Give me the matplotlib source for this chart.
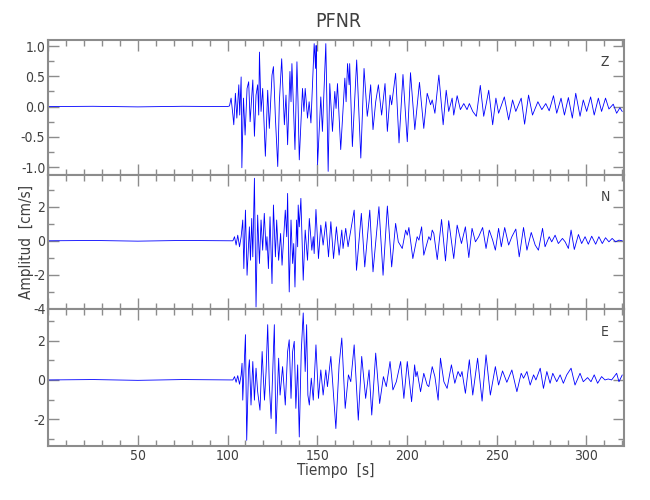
import matplotlib
matplotlib.use("Agg")
import matplotlib.pyplot as plt
from matplotlib.ticker import MultipleLocator

z_t = [0, 25, 50, 75, 100, 101.1, 102.0, 103.0, 103.5, 104.4, 105.2, 106.3, 106.8, 107.6, 108.0,
       108.9, 109.8, 110.9, 111.8, 112.6, 114.1, 115.0, 115.9, 116.8, 117.4, 117.8, 118.7, 119.6,
       121.1, 122.4, 123.3, 124.8, 125.6, 126.7, 128.0, 128.9, 130.2, 131.7, 132.6, 133.5, 134.8,
       135.4, 135.9, 137.6, 138.7, 139.3, 140.0, 141.8, 142.6, 143.3, 144.6, 145.5, 146.5, 148.3,
       149.1, 149.4, 150.2, 152.0, 152.9, 154.8, 156.1, 157.0, 158.5, 159.8, 160.5, 161.3, 163.1,
       165.4, 166.1, 166.9, 167.8, 168.1, 169.6, 172.0, 174.3, 176.1, 177.9, 178.9, 179.8, 181.1,
       182.6, 184.1, 185.9, 186.7, 187.8, 189.1, 190.6, 191.5, 193.7, 195.6, 197.8, 200.2, 202.0,
       204.4, 207.0, 209.4, 211.3, 213.2, 214.1, 215.6, 217.8, 220.2, 221.9, 223.3, 225.2, 226.1,
       228.0, 229.8, 231.7, 233.5, 234.8, 236.7, 238.7, 240.9, 242.8, 244.1, 245.6, 247.8, 249.6,
       251.1, 254.3, 256.7, 258.9, 260.7, 263.7, 265.6, 267.8, 270.0, 273.0, 275.2, 277.4, 279.3,
       281.7, 283.5, 285.9, 287.8, 290.0, 292.2, 294.1, 296.5, 298.3, 300.2, 302.4, 304.4, 306.7,
       308.5, 310.7, 312.6, 315.0, 316.9, 318.7, 320.0]
z_amp = [0.0, 0.005, -0.005, 0.005, 0.0, 0.01, 0.14, -0.14, -0.30, 0.22, -0.19, 0.36, -0.14, 0.49, -1.01,
         0.14, -0.47, 0.30, 0.41, -0.25, 0.44, -0.49, 0.19, 0.36, -0.14, 0.90, -0.08, 0.30,
         -0.82, 0.27, -0.36, 0.52, 0.66, -0.19, -0.99, 0.08, 0.79, -0.30, 0.19, -0.63, 0.58,
         0.08, 0.71, -0.71, 0.74, 0.08, -0.88, 0.30, -0.08, 0.30, -0.19, 0.08, -0.27, 1.04,
         0.63, 1.01, -0.96, 0.16, -0.41, 1.04, -1.07, 0.38, -0.41, 0.25, -0.03, 0.38, -0.71,
         0.47, 0.08, 0.71, 0.36, 0.71, -0.66, 0.77, -0.85, 0.63, -0.16, 0.08, 0.36, -0.38,
         0.08, 0.36, -0.14, 0.08, 0.38, -0.41, 0.19, 0.03, 0.55, -0.60, 0.53, -0.58, 0.56,
         -0.38, 0.40, -0.36, 0.22, 0.03, 0.11, -0.11, 0.52, -0.30, 0.27, -0.08, 0.14, -0.14,
         0.18, -0.05, 0.05, -0.05, 0.05, -0.08, -0.16, 0.35, -0.16, 0.03, 0.27, -0.30, 0.14,
         -0.11, 0.16, -0.22, 0.11, -0.08, 0.14, -0.29, 0.19, -0.14, 0.08, -0.05, 0.05, -0.07,
         0.18, -0.11, 0.14, -0.14, 0.15, -0.19, 0.22, -0.16, 0.11, -0.08, 0.16, -0.14, 0.14,
         -0.08, 0.14, -0.04, 0.04, -0.11, -0.02, -0.08]

# Componente N
n_t = [0, 25, 50, 75, 100, 103.0, 103.9, 104.8, 105.7, 106.7, 107.6, 108.5, 109.1, 110.0, 110.9,
       112.2, 112.8, 113.5, 114.1, 115.0, 115.9, 116.8, 117.8, 118.7, 119.6, 120.5, 121.5, 122.0,
       122.8, 123.7, 124.8, 125.6, 126.7, 127.4, 128.5, 129.6, 130.4, 132.2, 133.0, 133.5, 134.4,
       135.4, 136.3, 136.9, 137.6, 138.5, 139.1, 139.4, 140.0, 140.9, 142.2, 143.3, 144.6, 145.6,
       147.0, 147.8, 148.3, 149.3, 150.7, 152.0, 153.3, 154.8, 156.3, 157.6, 159.1, 160.7, 162.2,
       163.7, 164.4, 165.9, 167.2, 168.1, 170.6, 171.9, 174.6, 176.5, 179.3, 181.1, 184.4, 186.7,
       189.1, 191.5, 193.7, 195.2, 197.4, 199.3, 200.2, 201.1, 203.3, 205.7, 206.7, 208.2, 209.4,
       212.2, 213.2, 214.1, 215.0, 216.9, 219.3, 221.5, 223.3, 226.1, 228.0, 230.4, 232.6, 234.5,
       236.3, 238.2, 240.0, 242.2, 244.1, 245.9, 247.8, 249.3, 251.1, 252.6, 254.5, 256.7, 258.5,
       260.7, 262.6, 265.0, 266.9, 269.3, 271.5, 273.3, 275.6, 277.0, 279.3, 280.7, 282.6, 284.4,
       286.7, 288.2, 290.0, 291.5, 293.3, 295.6, 297.4, 299.3, 301.1, 303.0, 305.2, 307.0, 308.9,
       310.7, 312.6, 314.4, 316.3, 318.2, 320.0]
n_amp = [0.0, 0.02, -0.02, 0.02, 0.0, 0.0, 0.24, -0.25, 0.33, -0.35, 0.24, 1.22, -1.63, 1.80, -2.02,
         0.82, -1.14, 1.31, -0.94, 3.67, -3.88, 1.51, -1.33, 1.22, -0.55, 1.61, -0.55, 0.24,
         -1.63, 1.41, -2.51, 2.10, -0.94, 1.22, -1.14, 0.43, -1.43, 1.80, 0.24, 2.78, -3.00,
         1.22, -1.33, -0.16, -2.71, 1.22, -0.35, 2.10, 0.82, 2.49, -2.31, 0.63, -1.14, 1.31,
         -0.55, 0.24, -0.75, 1.84, -1.04, 0.92, -0.25, 1.12, -0.94, 1.12, -1.04, 0.82, -0.84,
         0.63, -0.45, 0.73, -0.35, 0.24, 1.80, -1.73, 1.61, -1.53, 1.80, -1.82, 2.00, -2.02,
         2.04, -1.53, 1.02, -0.06, -0.45, 0.63, 0.33, 0.78, -1.04, 0.24, 0.04, 0.82, -0.84,
         0.24, 0.04, 0.63, 0.43, -1.10, 1.25, -1.18, 1.18, -1.04, 0.92, -0.16, 0.82, -0.98,
         0.73, -0.06, 0.24, 0.78, -0.45, 0.63, 0.04, -0.55, 0.73, -0.35, 0.78, -0.25, 0.24,
         0.69, -0.94, 0.78, -0.55, 0.49, -0.25, -0.55, 0.73, -0.35, 0.24, -0.06, 0.33, -0.16,
         0.14, -0.06, -0.45, 0.63, -0.51, 0.37, -0.16, 0.24, -0.20, 0.27, -0.20, 0.24, -0.16,
         0.18, -0.06, 0.14, -0.06, 0.04, 0.0]

# Componente E
e_t = [0, 25, 50, 75, 100, 103.0, 103.9, 104.8, 105.7, 106.7, 107.6, 108.1, 108.5, 109.4, 110.0,
       110.7, 111.7, 112.2, 113.1, 114.1, 115.0, 115.9, 116.8, 118.1, 119.3, 120.6, 121.5, 122.4,
       123.3, 124.3, 125.2, 126.1, 127.0, 128.5, 129.3, 130.7, 132.2, 133.5, 134.4, 135.4, 136.3,
       137.2, 138.1, 139.1, 140.0, 141.1, 142.2, 143.3, 144.1, 144.8, 145.6, 146.7, 147.8, 149.3,
       150.7, 152.0, 153.3, 154.8, 155.7, 157.6, 160.4, 162.2, 163.7, 165.6, 167.4, 168.7, 170.6,
       172.9, 174.8, 177.0, 178.9, 180.4, 182.6, 184.8, 186.9, 188.5, 190.6, 192.2, 194.1, 196.5,
       198.3, 200.2, 202.6, 204.3, 205.0, 205.7, 207.6, 209.4, 211.3, 212.2, 214.1, 215.6, 217.4,
       218.7, 220.6, 222.4, 224.8, 226.7, 228.5, 229.8, 230.7, 232.6, 234.8, 236.7, 239.4, 241.9,
       244.1, 246.5, 249.3, 251.1, 253.3, 255.7, 258.5, 261.3, 263.7, 265.0, 266.9, 268.7, 270.6,
       271.9, 274.3, 276.1, 278.0, 279.8, 281.3, 283.5, 285.4, 287.2, 289.1, 291.5, 293.7, 296.5,
       298.3, 300.7, 302.6, 304.4, 306.3, 308.5, 310.4, 312.2, 314.1, 316.9, 318.2, 320.0]
e_amp = [0.0, 0.02, -0.02, 0.02, 0.0, 0.0, 0.17, -0.12, 0.22, -0.22, 0.26, 0.85, -1.03, 1.03, 2.31,
         -3.08, 0.51, 1.03, -1.28, 0.94, -1.03, 0.60, -0.60, -1.54, 1.45, -1.03, 0.43, 2.82,
         -0.26, -1.97, 0.43, 2.82, -2.74, 1.11, -0.77, 0.68, -1.28, 1.45, 2.05, -0.94, 1.45,
         1.97, -1.45, 0.77, -2.91, 1.45, 3.42, 0.43, 2.82, -0.77, -1.28, 0.09, -1.03, 1.79,
         -0.94, 0.51, -0.77, 0.51, -0.34, 1.20, -2.48, 0.77, 2.14, -1.45, 0.26, -0.09, 1.79,
         -2.05, 1.20, -0.94, 0.51, -1.79, 1.37, -1.20, 0.17, -0.34, 0.94, -0.51, -0.09, 0.94,
         -0.94, 0.94, -1.11, 0.77, 0.17, 0.43, -0.60, 0.34, -0.26, -0.34, 0.68, 0.17, -1.03,
         1.11, -0.09, -0.43, 0.77, -0.17, 0.43, 0.17, 0.43, -0.68, 1.03, -0.77, 1.11, -1.08,
         1.28, -0.77, 0.68, -0.26, 0.46, -0.12, 0.51, -0.60, 0.34, 0.09, 0.43, -0.26, 0.26,
         0.0, 0.60, -0.43, 0.43, -0.17, 0.34, -0.09, 0.26, -0.17, 0.26, 0.60, -0.26, 0.34,
         -0.09, 0.12, -0.09, 0.26, -0.17, 0.17, 0.0, 0.05, 0.0, 0.34, -0.09, 0.25]

componentes = ["Z", "N", "E"]
ylims = [(-1.13, 1.10), (-4.0, 3.86), (-3.37, 3.62)]
yticks = [[-1.0, -0.5, 0.0, 0.5, 1.0], [-4, -2, 0, 2], [-2, 0, 2]]
yminor = [0.25, 1, 1]
yfmt = ["{:.1f}", "{:.0f}", "{:.0f}"]

plt.rcParams["font.family"] = ["DejaVu Sans"]
plt.rcParams["font.stretch"] = "condensed"
plt.rcParams["font.weight"] = "light"
gris = "#8c8c8c"
texto = "#404040"

fig = plt.figure(figsize=(6.5, 5), dpi=100)
alturas = [0.92, 0.650, 0.382, 0.108]
trazas = [(z_t, z_amp), (n_t, n_amp), (e_t, e_amp)]
ejes = []
for i, (t, amp) in enumerate(trazas):
    ax = fig.add_axes([0.074, alturas[i + 1], 0.886, alturas[i] - alturas[i + 1]])
    ax.plot(t, amp, color="#0000ff", lw=0.6)
    ax.set_xlim(0, 321)
    ax.set_ylim(*ylims[i])
    ax.set_yticks(yticks[i])
    ax.set_yticklabels([yfmt[i].format(v) for v in yticks[i]])
    ax.yaxis.set_minor_locator(MultipleLocator(yminor[i]))
    ax.xaxis.set_major_locator(MultipleLocator(50))
    ax.xaxis.set_minor_locator(MultipleLocator(10))
    ax.tick_params(which="both", direction="in", top=True, right=True, colors=gris,
                   labelcolor=texto, labelsize=10, width=1.0, pad=2)
    ax.tick_params(which="major", length=8)
    ax.tick_params(which="minor", length=4)
    for s in ax.spines.values():
        s.set_color(gris)
        s.set_linewidth(1.5)
    ax.text(0.967, 0.835, componentes[i], transform=ax.transAxes, ha="center",
            va="center", color=texto, fontsize=10)
    if i < 2:
        ax.tick_params(labelbottom=False)
    ejes.append(ax)

ejes[2].set_xticks([50, 100, 150, 200, 250, 300])
ejes[2].set_xlabel("Tiempo  [s]", color=texto, fontsize=11)
ejes[2].xaxis.set_label_coords(0.5, -0.125)
ejes[1].set_ylabel("Amplitud  [cm/s]", color=texto, fontsize=11)
ejes[1].yaxis.set_label_coords(-0.024, 0.5)
fig.text(0.52, 0.957, "PFNR", ha="center", va="center", color=texto, fontsize=14)

fig.savefig("out.png", dpi=100)
